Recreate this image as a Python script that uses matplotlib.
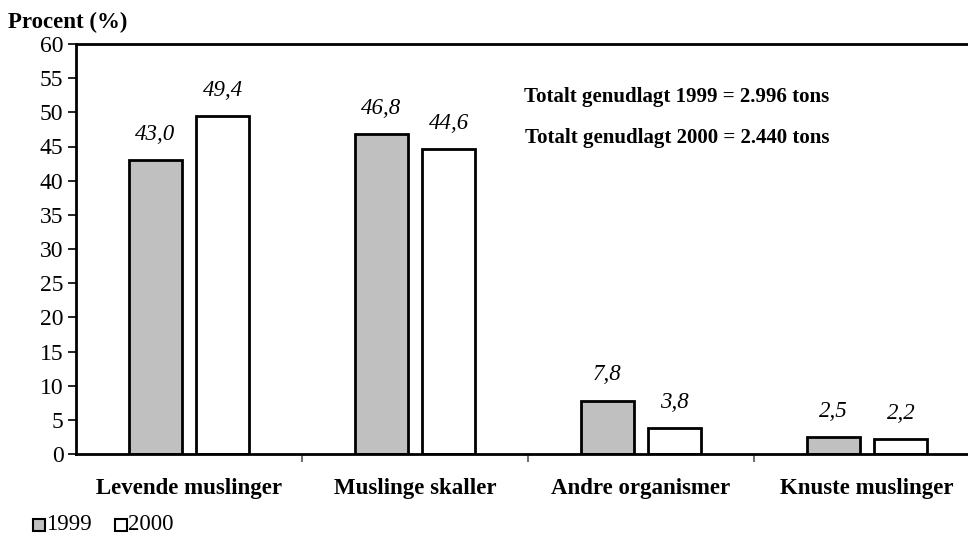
import numpy as np
import matplotlib
matplotlib.use("Agg")
import matplotlib.pyplot as plt
from matplotlib.patches import Rectangle

plt.rcParams['font.family'] = ['Liberation Serif', 'DejaVu Serif']

categories = ["Levende muslinger", "Muslinge skaller", "Andre organismer", "Knuste muslinger"]
v1999 = [43.0, 46.8, 7.8, 2.5]
v2000 = [49.4, 44.6, 3.8, 2.2]
years = ["1999", "2000"]
notes = ["Totalt genudlagt 1999 = 2.996 tons", "Totalt genudlagt 2000 = 2.440 tons"]

fig = plt.figure(figsize=(9.68, 5.35), dpi=100)
ax = fig.add_axes([76/968, 1-454/535, (980-76)/968, (454-44)/535])

x = np.arange(len(categories))
w = 0.235
b1 = ax.bar(x - 0.15, v1999, w, color="#c0c0c0", edgecolor="black", linewidth=2, zorder=2)
b2 = ax.bar(x + 0.15, v2000, w, color="white", edgecolor="black", linewidth=2, zorder=2)

for bars, vals in ((b1, v1999), (b2, v2000)):
    for r, v in zip(bars, vals):
        ax.annotate(f"{v:.1f}".replace(".", ","), (r.get_x() + r.get_width()/2, v),
                    xytext=(0, 11), textcoords="offset points", ha="center", va="bottom",
                    fontsize=16.5, style="italic")

ax.set_xlim(-0.5, 3.5)
ax.set_ylim(0, 60)
ax.set_yticks(range(0, 61, 5))
ax.tick_params(axis="y", labelsize=17, length=6, width=1.2, pad=3)
ax.set_xticks(np.arange(0.5, 3.6, 1))
ax.set_xticks(x, minor=True)
ax.set_xticklabels([])
ax.set_xticklabels(categories, minor=True, fontweight="bold", fontsize=16.5)
ax.tick_params(axis="x", which="major", length=6, width=1.2, color="#555555")
ax.tick_params(axis="x", which="minor", length=0, pad=17)
for s in ax.spines.values():
    s.set_linewidth(2)

fig.text(677/968, 1-97/535, notes[0], fontsize=15, fontweight="bold", va="center", ha="center")
fig.text(677/968, 1-138/535, notes[1], fontsize=15, fontweight="bold", va="center", ha="center")
fig.text(8/968, 1-22/535, "Procent (%)", fontsize=16.5, fontweight="bold", va="center")

# legend
fig.patches.append(Rectangle((33/968, 1-531/535), 12/968, 12/535, transform=fig.transFigure,
                             facecolor="#c0c0c0", edgecolor="black", linewidth=1.5))
fig.text(46/968, 1-524/535, years[0], fontsize=16.5, va="center")
fig.patches.append(Rectangle((115/968, 1-531/535), 12/968, 12/535, transform=fig.transFigure,
                             facecolor="white", edgecolor="black", linewidth=1.5))
fig.text(128/968, 1-524/535, years[1], fontsize=16.5, va="center")

fig.savefig("out.png", dpi=100)
